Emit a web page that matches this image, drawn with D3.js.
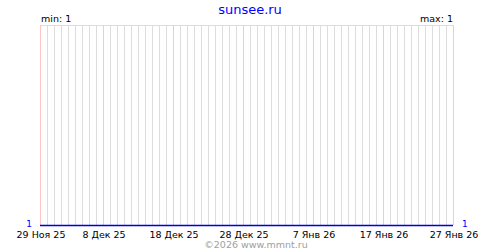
<html>
<head>
  <meta charset="utf-8">
  <script src="https://d3js.org/d3.v7.min.js"></script>
  <style>
    body { margin: 0; background: #fff; }
    text { font-family: "DejaVu Sans", Verdana, sans-serif; }
    .grid { stroke: #dddddd; stroke-width: 1px; shape-rendering: crispEdges; }
    .major { stroke: #ffc4c4; stroke-width: 1px; shape-rendering: crispEdges; }
  </style>
</head>
<body>
  <svg id="chart" width="500" height="250"></svg>
  <script>
    // Chart data: one value per day, 29 Nov 25 .. 27 Jan 26
    const startDay = new Date(Date.UTC(2025, 10, 29));
    const endDay = new Date(Date.UTC(2026, 0, 27));
    const values = [
      1, 1, 1, 1, 1, 1, 1, 1, 1, 1,
      1, 1, 1, 1, 1, 1, 1, 1, 1, 1,
      1, 1, 1, 1, 1, 1, 1, 1, 1, 1,
      1, 1, 1, 1, 1, 1, 1, 1, 1, 1,
      1, 1, 1, 1, 1, 1, 1, 1, 1, 1,
      1, 1, 1, 1, 1, 1, 1, 1, 1, 1
    ];
    const tickDates = [
      new Date(Date.UTC(2025, 10, 29)),
      new Date(Date.UTC(2025, 11, 8)),
      new Date(Date.UTC(2025, 11, 18)),
      new Date(Date.UTC(2025, 11, 28)),
      new Date(Date.UTC(2026, 0, 7)),
      new Date(Date.UTC(2026, 0, 17)),
      new Date(Date.UTC(2026, 0, 27))
    ];
    const tickLabels = ["29 Ноя 25", "8 Дек 25", "18 Дек 25", "28 Дек 25", "7 Янв 26", "17 Янв 26", "27 Янв 26"];
    const title = "sunsee.ru";
    const credit = "©2026 www.mmnt.ru";

    const svg = d3.select("#chart");
    const plot = { left: 40, right: 453, top: 25, bottom: 225 };

    const days = d3.utcDays(startDay, d3.utcDay.offset(endDay, 1));
    const data = days.map((d, i) => ({ date: d, value: values[i] }));

    const x = d3.scaleUtc().domain([startDay, endDay]).range([plot.left, plot.right]);
    const yMin = d3.min(values);
    const yMax = d3.max(values);
    // flat series sits on the bottom edge
    const y = d3.scaleLinear()
      .domain([yMin, yMax === yMin ? yMin + 1 : yMax])
      .range([plot.bottom, plot.top]);

    // title
    svg.append("text")
      .attr("x", 250).attr("y", 14)
      .attr("text-anchor", "middle")
      .attr("font-size", 13)
      .attr("fill", "#0000ff")
      .text(title);

    // top border
    svg.append("line").attr("class", "grid")
      .attr("x1", plot.left).attr("x2", plot.right + 1)
      .attr("y1", plot.top + 0.5).attr("y2", plot.top + 0.5);

    // daily grid lines
    const isMajor = d => tickDates.some(t => +t === +d);
    svg.selectAll("line.day").data(days)
      .join("line")
      .attr("class", d => isMajor(d) ? "day major" : "day grid")
      .attr("x1", d => Math.round(x(d)) + 0.5)
      .attr("x2", d => Math.round(x(d)) + 0.5)
      .attr("y1", plot.top)
      .attr("y2", plot.bottom);

    // series
    const line = d3.line()
      .x(d => Math.round(x(d.date)))
      .y(d => Math.round(y(d.value)) + 0.5);
    svg.append("path").datum(data)
      .attr("fill", "none")
      .attr("stroke", "#0000dd")
      .attr("stroke-width", 1.5)
      .attr("d", line);

    // min / max
    svg.append("text")
      .attr("x", plot.left + 1).attr("y", 22)
      .attr("font-size", 9.5)
      .text("min: " + yMin);
    svg.append("text")
      .attr("x", plot.right).attr("y", 22)
      .attr("text-anchor", "end")
      .attr("font-size", 9.5)
      .text("max: " + yMax);

    // value labels at both ends
    svg.append("text")
      .attr("x", plot.left - 8).attr("y", y(values[0]) + 1.5)
      .attr("text-anchor", "end")
      .attr("font-size", 9)
      .attr("fill", "#0000ff")
      .text(values[0]);
    svg.append("text")
      .attr("x", plot.right + 9).attr("y", y(values[values.length - 1]) + 1.5)
      .attr("font-size", 9)
      .attr("fill", "#0000ff")
      .text(values[values.length - 1]);

    // date labels
    svg.selectAll("text.tick").data(tickDates)
      .join("text")
      .attr("class", "tick")
      .attr("x", d => x(d) + 1)
      .attr("y", 237.5)
      .attr("text-anchor", "middle")
      .attr("font-size", 9.5)
      .text((d, i) => tickLabels[i]);

    // credit
    svg.append("text")
      .attr("x", 256).attr("y", 248)
      .attr("text-anchor", "middle")
      .attr("font-size", 9.5)
      .attr("fill", "#a0a0a0")
      .text(credit);
  </script>
</body>
</html>
